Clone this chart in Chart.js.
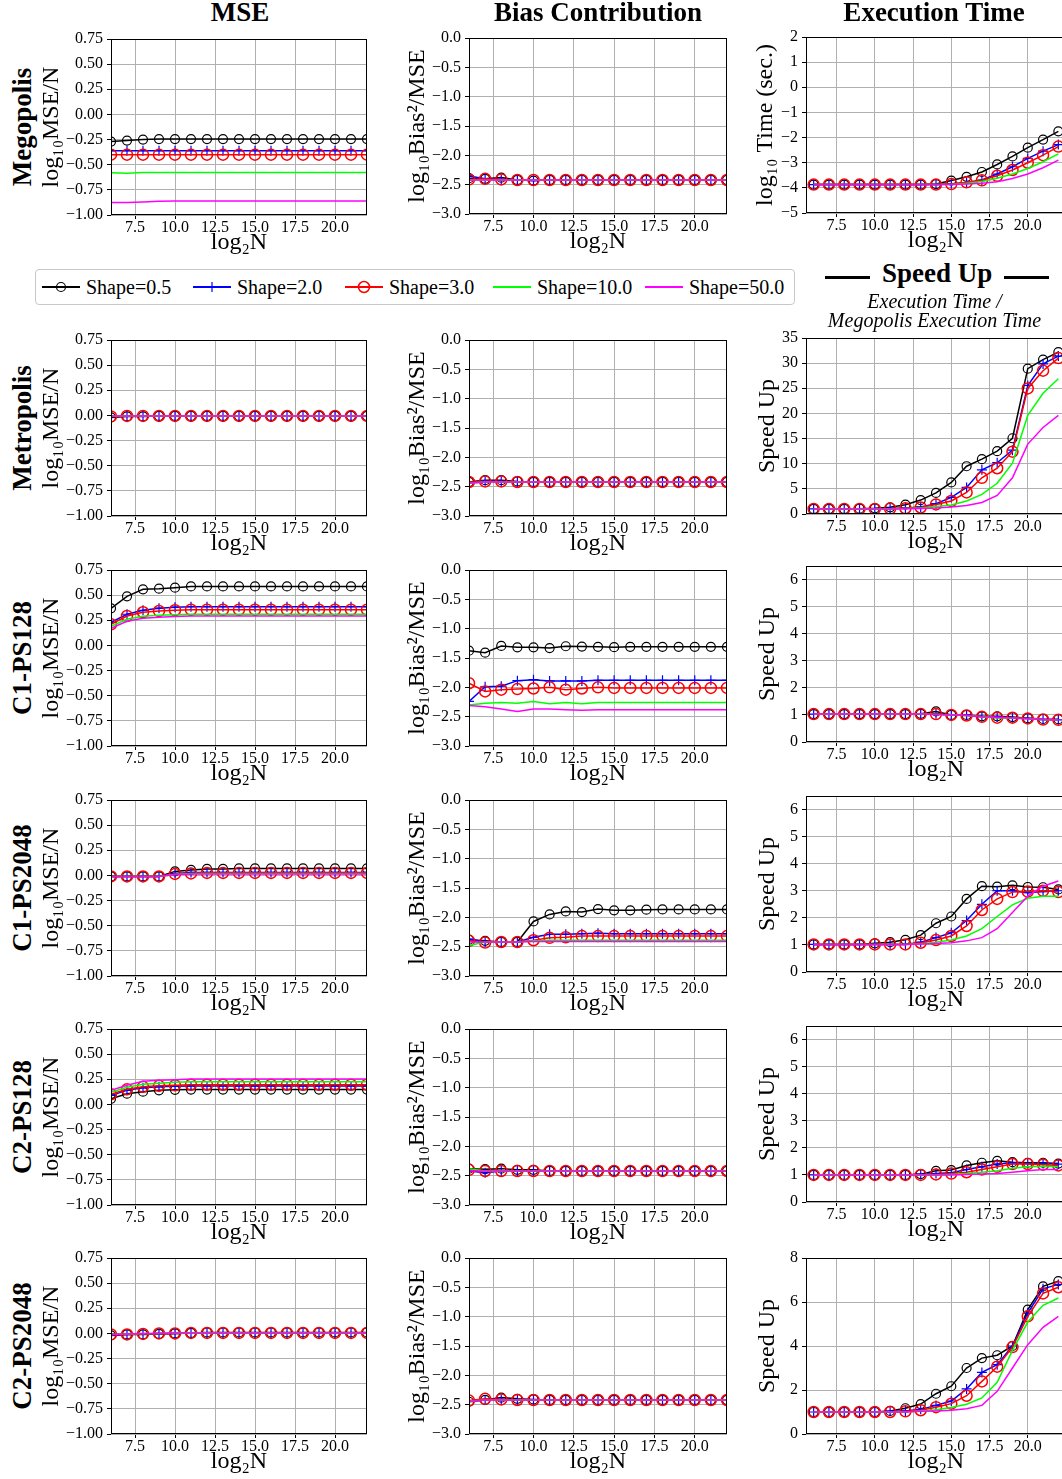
<!DOCTYPE html>
<html>
<head>
<meta charset="utf-8">
<script src="https://cdn.jsdelivr.net/npm/chart.js@4.4.1/dist/chart.umd.min.js"></script>
<style>
  html { margin: 0; padding: 0; background: #fff; overflow: hidden; }
  body { margin: 0; padding: 0; background: #fff; width: 1200px; height: 1479px; position: relative;
         font-family: "Liberation Serif", "Times New Roman", serif; color: #000; }
  canvas { position: absolute; max-width: none; }
  .coltitle { position: absolute; top: -1px; font-weight: bold; font-size: 27px; line-height: 27px;
              transform: translateX(-50%); white-space: nowrap; }
  .rowlabel { position: absolute; font-weight: bold; font-size: 27px; line-height: 27px; white-space: nowrap;
              transform: translate(-50%, -50%) rotate(-90deg); }
  .legend { position: absolute; left: 35px; top: 269px; width: 758px; height: 34px;
            border: 1px solid #c8c8c8; border-radius: 4px; }
  .entry { position: absolute; top: 6px; font-size: 20px; line-height: 22px; white-space: nowrap; }
  .entry svg { vertical-align: middle; margin-right: 6px; position: relative; top: -2px; }
  .speedhead { position: absolute; left: 813px; top: 258px; width: 243px; text-align: center;
               font-weight: bold; font-size: 27px; line-height: 30px; white-space: nowrap; }
  .speedhead .bar { display: inline-block; width: 45px; height: 3px; background: #000;
                    vertical-align: middle; margin: 0 12px; position: relative; top: 2px; }
  .speedsub { position: absolute; left: 813px; top: 292px; width: 243px; text-align: center;
              font-style: italic; font-size: 20px; line-height: 19px; white-space: nowrap; }
</style>
</head>
<body>
<script>
// x positions (log2 N)
const xs = [6, 7, 8, 9, 10, 11, 12, 13, 14, 15, 16, 17, 18, 19, 20, 21, 22];
const xTicks = [7.5, 10, 12.5, 15, 17.5, 20];

const shapeLabels = ['Shape=0.5', 'Shape=2.0', 'Shape=3.0', 'Shape=10.0', 'Shape=50.0'];
const rowNames = ['Megopolis', 'Metropolis', 'C1-PS128', 'C1-PS2048', 'C2-PS128', 'C2-PS2048'];
const colTitles = ['MSE', 'Bias Contribution', 'Execution Time'];

// y tick values
const mseTicks = [-1, -0.75, -0.5, -0.25, 0, 0.25, 0.5, 0.75];
const biasTicks = [-3, -2.5, -2, -1.5, -1, -0.5, 0];
const timeTicks = [-5, -4, -3, -2, -1, 0, 1, 2];
const speedTicksMetro = [0, 5, 10, 15, 20, 25, 30, 35];
const speedTicksSmall = [0, 1, 2, 3, 4, 5, 6];
const speedTicksC2 = [0, 2, 4, 6, 8];

// ---- Megopolis ----
const megMse = [
  [-0.27, -0.26, -0.25, -0.245, -0.245, -0.245, -0.245, -0.245, -0.245, -0.245, -0.245, -0.245, -0.245, -0.245, -0.245, -0.245, -0.245],
  [-0.36, -0.36, -0.36, -0.36, -0.36, -0.36, -0.36, -0.36, -0.36, -0.36, -0.36, -0.36, -0.36, -0.36, -0.36, -0.36, -0.36],
  [-0.40, -0.40, -0.40, -0.40, -0.40, -0.40, -0.40, -0.40, -0.40, -0.40, -0.40, -0.40, -0.40, -0.40, -0.40, -0.40, -0.40],
  [-0.58, -0.585, -0.578, -0.577, -0.577, -0.577, -0.578, -0.578, -0.577, -0.577, -0.577, -0.577, -0.577, -0.577, -0.577, -0.577, -0.577],
  [-0.875, -0.875, -0.87, -0.863, -0.862, -0.862, -0.862, -0.862, -0.862, -0.862, -0.862, -0.862, -0.862, -0.862, -0.862, -0.862, -0.862]
];
const megBias = [
  [-2.39, -2.40, -2.38, -2.42, -2.43, -2.42, -2.42, -2.42, -2.42, -2.42, -2.42, -2.42, -2.42, -2.42, -2.42, -2.42, -2.42],
  [-2.35, -2.40, -2.41, -2.42, -2.43, -2.42, -2.42, -2.42, -2.42, -2.42, -2.42, -2.42, -2.42, -2.42, -2.42, -2.42, -2.42],
  [-2.41, -2.40, -2.41, -2.42, -2.42, -2.42, -2.42, -2.42, -2.42, -2.42, -2.42, -2.42, -2.42, -2.42, -2.42, -2.42, -2.42],
  [-2.42, -2.42, -2.42, -2.42, -2.42, -2.42, -2.42, -2.42, -2.42, -2.42, -2.42, -2.42, -2.42, -2.42, -2.42, -2.42, -2.42],
  [-2.42, -2.42, -2.42, -2.42, -2.42, -2.42, -2.42, -2.42, -2.42, -2.42, -2.42, -2.42, -2.42, -2.42, -2.42, -2.42, -2.42]
];
const megTime = [
  [-3.87, -3.87, -3.87, -3.87, -3.87, -3.87, -3.87, -3.87, -3.85, -3.71, -3.56, -3.37, -3.07, -2.75, -2.40, -2.08, -1.75],
  [-3.87, -3.87, -3.87, -3.87, -3.87, -3.87, -3.87, -3.87, -3.87, -3.84, -3.80, -3.69, -3.45, -3.16, -2.83, -2.54, -2.28],
  [-3.87, -3.87, -3.87, -3.87, -3.87, -3.87, -3.87, -3.87, -3.87, -3.85, -3.78, -3.70, -3.52, -3.29, -3.00, -2.70, -2.36],
  [-3.87, -3.87, -3.87, -3.87, -3.87, -3.87, -3.87, -3.87, -3.87, -3.87, -3.82, -3.75, -3.62, -3.45, -3.23, -2.96, -2.65],
  [-3.87, -3.87, -3.87, -3.87, -3.87, -3.87, -3.87, -3.87, -3.87, -3.87, -3.85, -3.82, -3.76, -3.63, -3.45, -3.20, -2.90]
];

// ---- Metropolis ----
const metMse = [
  [-0.02, -0.01, -0.01, -0.005, -0.005, -0.005, -0.005, -0.005, -0.005, -0.005, -0.005, -0.005, -0.005, -0.005, -0.005, -0.005, -0.005],
  [-0.01, -0.005, -0.005, -0.005, -0.005, -0.005, -0.005, -0.005, -0.005, -0.005, -0.005, -0.005, -0.005, -0.005, -0.005, -0.005, -0.005],
  [-0.01, -0.005, -0.005, -0.005, -0.005, -0.005, -0.005, -0.005, -0.005, -0.005, -0.005, -0.005, -0.005, -0.005, -0.005, -0.005, -0.005],
  [-0.005, -0.005, -0.005, -0.005, -0.005, -0.005, -0.005, -0.005, -0.005, -0.005, -0.005, -0.005, -0.005, -0.005, -0.005, -0.005, -0.005],
  [-0.005, -0.005, -0.005, -0.005, -0.005, -0.005, -0.005, -0.005, -0.005, -0.005, -0.005, -0.005, -0.005, -0.005, -0.005, -0.005, -0.005]
];
const metBias = [
  [-2.42, -2.39, -2.39, -2.41, -2.42, -2.42, -2.42, -2.42, -2.42, -2.42, -2.42, -2.42, -2.42, -2.42, -2.42, -2.42, -2.42],
  [-2.42, -2.40, -2.41, -2.42, -2.42, -2.42, -2.42, -2.42, -2.42, -2.42, -2.42, -2.42, -2.42, -2.42, -2.42, -2.42, -2.42],
  [-2.42, -2.41, -2.41, -2.42, -2.42, -2.42, -2.42, -2.42, -2.42, -2.42, -2.42, -2.42, -2.42, -2.42, -2.42, -2.42, -2.42],
  [-2.44, -2.42, -2.42, -2.42, -2.42, -2.42, -2.42, -2.42, -2.42, -2.42, -2.42, -2.42, -2.42, -2.42, -2.42, -2.42, -2.42],
  [-2.44, -2.42, -2.42, -2.42, -2.42, -2.42, -2.42, -2.42, -2.42, -2.42, -2.42, -2.42, -2.42, -2.42, -2.42, -2.42, -2.42]
];
const metSpeed = [
  [1.0, 1.0, 1.0, 1.05, 1.12, 1.32, 1.85, 2.77, 4.2, 6.27, 9.5, 10.9, 12.5, 15.06, 28.9, 30.7, 32.2],
  [1.0, 1.0, 1.0, 1.0, 1.05, 1.1, 1.2, 1.4, 2.05, 3.3, 5.28, 8.78, 10.2, 12.7, 25.56, 29.85, 31.4],
  [1.0, 1.0, 1.0, 1.0, 1.0, 1.05, 1.15, 1.3, 1.9, 2.58, 4.3, 7.2, 9.1, 12.4, 24.97, 28.5, 31.0],
  [1.0, 1.0, 1.0, 1.0, 1.0, 1.02, 1.1, 1.2, 1.5, 1.8, 2.6, 3.9, 6.1, 10.1, 19.6, 24.0, 26.9],
  [1.0, 1.0, 1.0, 1.0, 1.0, 1.0, 1.05, 1.1, 1.2, 1.4, 1.7, 2.3, 3.7, 7.2, 13.9, 17.2, 19.6]
];

// ---- C1-PS128 ----
const c1s128Mse = [
  [0.369, 0.488, 0.558, 0.564, 0.574, 0.587, 0.587, 0.587, 0.587, 0.587, 0.587, 0.587, 0.587, 0.587, 0.587, 0.587, 0.587],
  [0.23, 0.31, 0.35, 0.37, 0.38, 0.385, 0.385, 0.385, 0.385, 0.385, 0.385, 0.385, 0.385, 0.385, 0.385, 0.385, 0.385],
  [0.21, 0.293, 0.33, 0.342, 0.35, 0.355, 0.355, 0.355, 0.355, 0.355, 0.355, 0.355, 0.355, 0.355, 0.355, 0.355, 0.355],
  [0.19, 0.26, 0.29, 0.30, 0.305, 0.31, 0.31, 0.31, 0.31, 0.31, 0.31, 0.31, 0.31, 0.31, 0.31, 0.31, 0.31],
  [0.17, 0.24, 0.27, 0.28, 0.288, 0.292, 0.292, 0.292, 0.292, 0.292, 0.292, 0.292, 0.292, 0.292, 0.292, 0.292, 0.292]
];
const c1s128Bias = [
  [-1.375, -1.41, -1.295, -1.318, -1.318, -1.33, -1.30, -1.305, -1.31, -1.315, -1.31, -1.31, -1.31, -1.31, -1.31, -1.31, -1.31],
  [-2.24, -1.99, -1.98, -1.886, -1.87, -1.89, -1.89, -1.89, -1.88, -1.88, -1.88, -1.88, -1.88, -1.88, -1.88, -1.88, -1.88],
  [-1.93, -2.07, -2.04, -2.03, -2.02, -2.00, -2.04, -2.02, -2.00, -2.01, -2.01, -2.01, -2.01, -2.01, -2.01, -2.01, -2.01],
  [-2.30, -2.27, -2.26, -2.27, -2.24, -2.28, -2.26, -2.28, -2.26, -2.26, -2.26, -2.26, -2.26, -2.26, -2.26, -2.26, -2.26],
  [-2.31, -2.33, -2.37, -2.41, -2.37, -2.37, -2.38, -2.39, -2.38, -2.38, -2.38, -2.38, -2.38, -2.38, -2.38, -2.38, -2.38]
];
const c1s128Speed = [
  [1.03, 1.03, 1.03, 1.03, 1.03, 1.03, 1.03, 1.04, 1.13, 1.0, 1.0, 0.95, 0.95, 0.92, 0.88, 0.85, 0.84],
  [1.03, 1.03, 1.03, 1.03, 1.03, 1.03, 1.03, 1.03, 1.04, 1.0, 0.99, 0.94, 0.92, 0.90, 0.87, 0.83, 0.82],
  [1.03, 1.03, 1.03, 1.03, 1.03, 1.03, 1.03, 1.03, 1.03, 1.0, 0.98, 0.93, 0.90, 0.90, 0.87, 0.83, 0.82],
  [1.03, 1.03, 1.03, 1.03, 1.03, 1.03, 1.03, 1.03, 1.02, 1.0, 0.98, 0.93, 0.90, 0.88, 0.86, 0.83, 0.81],
  [1.03, 1.03, 1.03, 1.03, 1.03, 1.03, 1.03, 1.03, 1.02, 1.0, 0.98, 0.93, 0.91, 0.89, 0.86, 0.83, 0.81]
];

// ---- C1-PS2048 ----
const c1s2048Mse = [
  [-0.01, -0.01, -0.01, -0.01, 0.04, 0.055, 0.065, 0.065, 0.07, 0.07, 0.07, 0.07, 0.07, 0.07, 0.07, 0.07, 0.07],
  [-0.01, -0.01, -0.01, -0.01, 0.02, 0.03, 0.03, 0.03, 0.03, 0.03, 0.03, 0.03, 0.03, 0.03, 0.03, 0.03, 0.03],
  [-0.01, -0.01, -0.01, -0.01, 0.015, 0.02, 0.025, 0.025, 0.025, 0.025, 0.025, 0.025, 0.025, 0.025, 0.025, 0.025, 0.025],
  [-0.01, -0.01, -0.01, -0.01, 0.01, 0.02, 0.02, 0.02, 0.02, 0.02, 0.02, 0.02, 0.02, 0.02, 0.02, 0.02, 0.02],
  [-0.01, -0.01, -0.01, -0.01, 0.01, 0.015, 0.015, 0.015, 0.015, 0.015, 0.015, 0.015, 0.015, 0.015, 0.015, 0.015, 0.015]
];
const c1s2048Bias = [
  [-2.38, -2.40, -2.42, -2.42, -2.07, -1.95, -1.90, -1.91, -1.86, -1.88, -1.88, -1.87, -1.865, -1.865, -1.865, -1.865, -1.865],
  [-2.37, -2.42, -2.42, -2.42, -2.34, -2.29, -2.29, -2.28, -2.27, -2.28, -2.28, -2.28, -2.28, -2.28, -2.28, -2.28, -2.28],
  [-2.40, -2.43, -2.42, -2.42, -2.39, -2.35, -2.34, -2.32, -2.32, -2.32, -2.32, -2.32, -2.32, -2.32, -2.32, -2.32, -2.32],
  [-2.48, -2.42, -2.42, -2.42, -2.40, -2.39, -2.39, -2.39, -2.39, -2.39, -2.39, -2.39, -2.39, -2.39, -2.39, -2.39, -2.39],
  [-2.42, -2.42, -2.42, -2.42, -2.41, -2.41, -2.41, -2.41, -2.41, -2.41, -2.41, -2.41, -2.41, -2.41, -2.41, -2.41, -2.41]
];
const c1s2048Speed = [
  [1.02, 1.02, 1.02, 1.02, 1.06, 1.10, 1.19, 1.36, 1.80, 2.05, 2.70, 3.17, 3.15, 3.20, 3.14, 3.13, 3.05],
  [1.02, 1.02, 1.02, 1.02, 1.02, 1.02, 1.02, 1.10, 1.27, 1.45, 1.90, 2.50, 3.00, 3.00, 2.93, 2.97, 3.00],
  [1.02, 1.02, 1.02, 1.02, 1.02, 1.02, 1.02, 1.08, 1.18, 1.33, 1.70, 2.29, 2.70, 2.95, 2.97, 3.00, 2.95],
  [1.02, 1.02, 1.02, 1.02, 1.02, 1.02, 1.02, 1.04, 1.10, 1.18, 1.33, 1.60, 2.05, 2.48, 2.72, 2.80, 2.80],
  [1.02, 1.02, 1.02, 1.02, 1.02, 1.02, 1.02, 1.03, 1.05, 1.08, 1.15, 1.27, 1.60, 2.20, 2.80, 3.17, 3.36]
];

// ---- C2-PS128 ----
const c2s128Mse = [
  [0.056, 0.107, 0.127, 0.14, 0.145, 0.148, 0.148, 0.148, 0.148, 0.148, 0.148, 0.148, 0.148, 0.148, 0.148, 0.148, 0.148],
  [0.09, 0.14, 0.165, 0.175, 0.18, 0.183, 0.183, 0.183, 0.183, 0.183, 0.183, 0.183, 0.183, 0.183, 0.183, 0.183, 0.183],
  [0.10, 0.15, 0.175, 0.185, 0.19, 0.196, 0.196, 0.196, 0.196, 0.196, 0.196, 0.196, 0.196, 0.196, 0.196, 0.196, 0.196],
  [0.12, 0.17, 0.20, 0.21, 0.22, 0.226, 0.226, 0.226, 0.226, 0.226, 0.226, 0.226, 0.226, 0.226, 0.226, 0.226, 0.226],
  [0.14, 0.19, 0.23, 0.24, 0.245, 0.253, 0.253, 0.253, 0.253, 0.253, 0.253, 0.253, 0.253, 0.253, 0.253, 0.253, 0.253]
];
const c2s128Bias = [
  [-2.38, -2.39, -2.38, -2.40, -2.40, -2.42, -2.42, -2.42, -2.42, -2.42, -2.42, -2.42, -2.42, -2.42, -2.42, -2.42, -2.42],
  [-2.42, -2.45, -2.42, -2.42, -2.42, -2.42, -2.42, -2.42, -2.42, -2.42, -2.42, -2.42, -2.42, -2.42, -2.42, -2.42, -2.42],
  [-2.40, -2.42, -2.42, -2.42, -2.42, -2.42, -2.42, -2.42, -2.42, -2.42, -2.42, -2.42, -2.42, -2.42, -2.42, -2.42, -2.42],
  [-2.38, -2.42, -2.42, -2.42, -2.42, -2.42, -2.42, -2.42, -2.42, -2.42, -2.42, -2.42, -2.42, -2.42, -2.42, -2.42, -2.42],
  [-2.42, -2.42, -2.42, -2.42, -2.42, -2.42, -2.42, -2.42, -2.42, -2.42, -2.42, -2.42, -2.42, -2.42, -2.42, -2.42, -2.42]
];
const c2s128Speed = [
  [1.0, 1.0, 1.0, 1.0, 1.0, 1.0, 1.0, 1.03, 1.15, 1.18, 1.35, 1.45, 1.52, 1.47, 1.45, 1.45, 1.42],
  [1.0, 1.0, 1.0, 1.0, 1.0, 1.0, 1.0, 1.02, 1.05, 1.08, 1.2, 1.3, 1.4, 1.45, 1.42, 1.42, 1.4],
  [1.0, 1.0, 1.0, 1.0, 1.0, 1.0, 1.0, 1.0, 1.02, 1.05, 1.1, 1.2, 1.3, 1.4, 1.4, 1.38, 1.35],
  [1.0, 1.0, 1.0, 1.0, 1.0, 1.0, 1.0, 1.0, 1.0, 1.02, 1.05, 1.1, 1.15, 1.25, 1.3, 1.32, 1.3],
  [1.0, 1.0, 1.0, 1.0, 1.0, 1.0, 1.0, 1.0, 1.0, 1.0, 1.02, 1.03, 1.05, 1.1, 1.15, 1.2, 1.2]
];

// ---- C2-PS2048 ----
const c2s2048Mse = [
  [-0.02, -0.01, -0.01, -0.005, 0.0, 0.005, 0.01, 0.01, 0.01, 0.01, 0.01, 0.01, 0.01, 0.01, 0.01, 0.01, 0.01],
  [-0.01, -0.01, -0.005, 0.0, 0.0, 0.005, 0.005, 0.005, 0.005, 0.005, 0.005, 0.005, 0.005, 0.005, 0.005, 0.005, 0.005],
  [-0.01, -0.01, -0.005, 0.0, 0.0, 0.005, 0.005, 0.005, 0.005, 0.005, 0.005, 0.005, 0.005, 0.005, 0.005, 0.005, 0.005],
  [-0.01, -0.005, 0.0, 0.0, 0.005, 0.005, 0.005, 0.005, 0.005, 0.005, 0.005, 0.005, 0.005, 0.005, 0.005, 0.005, 0.005],
  [-0.01, -0.005, 0.0, 0.0, 0.005, 0.005, 0.005, 0.005, 0.005, 0.005, 0.005, 0.005, 0.005, 0.005, 0.005, 0.005, 0.005]
];
const c2s2048Bias = [
  [-2.45, -2.42, -2.38, -2.40, -2.41, -2.42, -2.42, -2.42, -2.42, -2.42, -2.42, -2.42, -2.42, -2.42, -2.42, -2.42, -2.42],
  [-2.44, -2.42, -2.41, -2.42, -2.42, -2.42, -2.42, -2.42, -2.42, -2.42, -2.42, -2.42, -2.42, -2.42, -2.42, -2.42, -2.42],
  [-2.43, -2.40, -2.41, -2.42, -2.42, -2.42, -2.42, -2.42, -2.42, -2.42, -2.42, -2.42, -2.42, -2.42, -2.42, -2.42, -2.42],
  [-2.44, -2.42, -2.42, -2.42, -2.42, -2.42, -2.42, -2.42, -2.42, -2.42, -2.42, -2.42, -2.42, -2.42, -2.42, -2.42, -2.42],
  [-2.44, -2.42, -2.42, -2.42, -2.42, -2.42, -2.42, -2.42, -2.42, -2.42, -2.42, -2.42, -2.42, -2.42, -2.42, -2.42, -2.42]
];
const c2s2048Speed = [
  [1.0, 1.0, 1.0, 1.0, 1.0, 1.05, 1.17, 1.36, 1.83, 2.17, 3.0, 3.45, 3.58, 4.0, 5.65, 6.71, 6.95],
  [1.0, 1.0, 1.0, 1.0, 1.0, 1.03, 1.05, 1.12, 1.3, 1.5, 2.05, 2.8, 3.15, 4.0, 5.5, 6.6, 6.8],
  [1.0, 1.0, 1.0, 1.0, 1.0, 1.0, 1.03, 1.08, 1.22, 1.38, 1.74, 2.39, 3.06, 3.95, 5.35, 6.39, 6.67],
  [1.0, 1.0, 1.0, 1.0, 1.0, 1.0, 1.0, 1.05, 1.1, 1.2, 1.35, 1.64, 2.35, 3.8, 5.09, 5.85, 6.18],
  [1.0, 1.0, 1.0, 1.0, 1.0, 1.0, 1.0, 1.03, 1.05, 1.08, 1.15, 1.3, 1.94, 3.0, 4.06, 4.85, 5.35]
];

const FONT = '"Liberation Serif", "Times New Roman", serif';

// line styles for the five shapes
const styles = [
  { color: '#000000', point: 'circle', radius: 4.5, bw: 1.2, order: 4 },
  { color: '#0000ff', point: 'cross', radius: 5, bw: 1.2, order: 3 },
  { color: '#ff0000', point: 'circle', radius: 5.5, bw: 1.5, order: 2 },
  { color: '#00ff00', point: false, radius: 0, bw: 1, order: 1 },
  { color: '#ff00ff', point: false, radius: 0, bw: 1, order: 0 }
];

// layout of the grid of panels
const cols = [
  { plotLeft: 111, plotW: 257, yW: 71, xMin: 6, xMax: 22, padR: 6 },
  { plotLeft: 469, plotW: 259, yW: 63, xMin: 6, xMax: 22, padR: 6 },
  { plotLeft: 806, plotW: 263, yW: 52, xMin: 5.5, xMax: 22.5, padR: 4 }
];
const rowTops = [[39, 38, 37], [340, 340, 338], [570, 570, 566], [800, 800, 796], [1029, 1029, 1026], [1258, 1258, 1258]];
const PLOT_H = 176, PAD_T = 12, X_H = 40;

const frame = {
  id: 'frame',
  afterDraw(chart) {
    const { ctx, chartArea: a } = chart;
    ctx.save();
    ctx.strokeStyle = '#000';
    ctx.lineWidth = 1;
    ctx.strokeRect(a.left + 0.5, a.top + 0.5, a.right - a.left - 1, a.bottom - a.top - 1);
    ctx.restore();
  }
};

function fmt(v, d) {
  return v.toFixed(d).replace('-', '\u2212');
}

function makePanel(r, c, series, yTicks, yMin, yMax, dec, yTitle, yW) {
  const col = cols[c];
  const yw = yW || col.yW;
  const cv = document.createElement('canvas');
  const w = yw + col.plotW + col.padR;
  const h = PAD_T + PLOT_H + X_H;
  cv.width = w; cv.height = h;
  cv.style.width = w + 'px';
  cv.style.height = h + 'px';
  cv.style.left = (col.plotLeft - yw) + 'px';
  cv.style.top = (rowTops[r][c] - PAD_T) + 'px';
  document.body.appendChild(cv);

  const datasets = series.map((vals, i) => {
    const s = styles[i];
    return {
      label: shapeLabels[i],
      data: xs.map((x, j) => ({ x: x, y: vals[j] })),
      borderColor: s.color,
      backgroundColor: 'rgba(0,0,0,0)',
      borderWidth: 1.5,
      pointStyle: s.point,
      pointRadius: s.radius,
      pointBorderWidth: s.bw,
      pointBorderColor: s.color,
      pointBackgroundColor: 'rgba(0,0,0,0)',
      tension: 0,
      order: s.order,
      clip: 0
    };
  });

  new Chart(cv.getContext('2d'), {
    type: 'line',
    data: { datasets: datasets },
    plugins: [frame],
    options: {
      responsive: false,
      maintainAspectRatio: false,
      animation: false,
      events: [],
      layout: { padding: { top: PAD_T, right: col.padR, left: 0, bottom: 0 } },
      plugins: { legend: { display: false }, tooltip: { enabled: false } },
      scales: {
        x: {
          type: 'linear', min: col.xMin, max: col.xMax, bounds: 'data',
          afterFit: s => { s.height = X_H; },
          afterBuildTicks: s => {
            s.ticks = xTicks.map(v => ({ value: v }));
            s.min = col.xMin; s.max = col.xMax;
          },
          ticks: { callback: v => v.toFixed(1), font: { family: FONT, size: 16, lineHeight: 1 },
                   color: '#000', padding: 1, maxRotation: 0, autoSkip: false },
          grid: { color: '#b0b0b0', lineWidth: 1, tickLength: 4, tickColor: '#000' },
          border: { display: false },
          title: { display: true, text: 'log\u2082N', font: { family: FONT, size: 24, lineHeight: 1 },
                   color: '#000', padding: 0 }
        },
        y: {
          type: 'linear', min: yMin, max: yMax, bounds: 'data',
          afterFit: s => { s.width = yw; },
          afterBuildTicks: s => {
            s.ticks = yTicks.map(v => ({ value: v }));
            s.min = yMin; s.max = yMax;
          },
          ticks: { callback: v => fmt(v, dec), font: { family: FONT, size: 16, lineHeight: 1 },
                   color: '#000', padding: 4, autoSkip: false },
          grid: { color: '#b0b0b0', lineWidth: 1, tickLength: 4, tickColor: '#000' },
          border: { display: false },
          title: { display: true, text: yTitle, font: { family: FONT, size: 24, lineHeight: 1 },
                   color: '#000', padding: 0 }
        }
      }
    }
  });
}

const mseRows = [megMse, metMse, c1s128Mse, c1s2048Mse, c2s128Mse, c2s2048Mse];
const biasRows = [megBias, metBias, c1s128Bias, c1s2048Bias, c2s128Bias, c2s2048Bias];
const speedRows = [null, metSpeed, c1s128Speed, c1s2048Speed, c2s128Speed, c2s2048Speed];
const speedTickSets = [null, speedTicksMetro, speedTicksSmall, speedTicksSmall, speedTicksSmall, speedTicksC2];
const speedMax = [null, 35, 6.5, 6.5, 6.5, 8];

for (let r = 0; r < 6; r++) {
  makePanel(r, 0, mseRows[r], mseTicks, -1, 0.75, 2, 'log\u2081\u2080MSE/N');
  makePanel(r, 1, biasRows[r], biasTicks, -3, 0, 1, 'log\u2081\u2080Bias\u00b2/MSE');
  if (r === 0) {
    makePanel(r, 2, megTime, timeTicks, -5, 2, 0, 'log\u2081\u2080 Time (sec.)');
  } else {
    makePanel(r, 2, speedRows[r], speedTickSets[r], 0, speedMax[r], 0, 'Speed Up', 50);
  }
  const lab = document.createElement('div');
  lab.className = 'rowlabel';
  lab.textContent = rowNames[r];
  lab.style.left = '22px';
  lab.style.top = (rowTops[r][0] + PLOT_H / 2) + 'px';
  document.body.appendChild(lab);
}

// column titles
const titleX = [240, 598, 934];
colTitles.forEach((t, i) => {
  const d = document.createElement('div');
  d.className = 'coltitle';
  d.textContent = t;
  d.style.left = titleX[i] + 'px';
  document.body.appendChild(d);
});

// legend
const legend = document.createElement('div');
legend.className = 'legend';
document.body.appendChild(legend);
const entryX = [6, 157, 309, 457, 609];
shapeLabels.forEach((lbl, i) => {
  const s = styles[i];
  const e = document.createElement('div');
  e.className = 'entry';
  e.style.left = entryX[i] + 'px';
  let mark = '';
  if (s.point === 'circle') {
    mark = '<circle cx="19" cy="10" r="' + s.radius + '" fill="none" stroke="' + s.color + '" stroke-width="' + s.bw + '"/>';
  } else if (s.point === 'cross') {
    mark = '<line x1="19" y1="5" x2="19" y2="15" stroke="' + s.color + '" stroke-width="1.2"/>';
  }
  e.innerHTML = '<svg width="38" height="20"><line x1="0" y1="10" x2="38" y2="10" stroke="' + s.color +
    '" stroke-width="2"/>' + mark + '</svg>' + lbl;
  legend.appendChild(e);
});

// speed-up header
const sh = document.createElement('div');
sh.className = 'speedhead';
sh.innerHTML = '<span class="bar"></span>Speed Up<span class="bar"></span>';
document.body.appendChild(sh);
const ss = document.createElement('div');
ss.className = 'speedsub';
ss.innerHTML = 'Execution Time /<br>Megopolis Execution Time';
document.body.appendChild(ss);
</script>
</body>
</html>
